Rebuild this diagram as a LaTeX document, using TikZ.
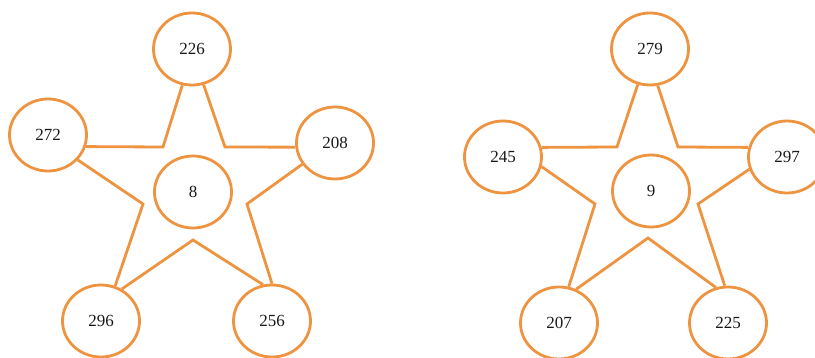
\documentclass[tikz,border=0pt]{standalone}
\usepackage{fontspec}
\setmainfont{Liberation Serif}
\usetikzlibrary{shapes.geometric}
\definecolor{starorange}{RGB}{238,148,64}
\begin{document}
\begin{tikzpicture}[x=1pt,y=-1pt,
  ball/.style={ellipse,draw=starorange,line width=2.8pt,minimum width=77pt,minimum height=72pt,inner sep=0pt,
    font=\fontsize{17}{17}\selectfont,text=black!90},
  edge/.style={draw=starorange,line width=2.8pt,line join=miter}]
\useasboundingbox (0,0) rectangle (815,358);
% left star
\node[ball] (lt) at (192,49) {226};
\node[ball] (ll) at (48,135) {272};
\node[ball] (lr) at (335,143) {208};
\node[ball] (lc) at (193,192) {8};
\node[ball] (lbl) at (101,321) {296};
\node[ball] (lbr) at (272,321) {256};
\coordinate (lA) at (163,147);
\coordinate (lB) at (225,147);
\coordinate (lC) at (143,204);
\coordinate (lD) at (247,204);
\coordinate (lE) at (193,240);
\draw[edge] (ll.-17) -- (lA) -- (lt.-105);
\draw[edge] (lt.-72) -- (lB) -- (lr.-174);
\draw[edge] (lr.-147) -- (lD) -- (lbr.90);
\draw[edge] (lbr.104) -- (lE) -- (lbl.57);
\draw[edge] (lbl.68) -- (lC) -- (ll.-40);
% right star
\node[ball] (rt) at (650,49) {279};
\node[ball] (rl) at (503,157) {245};
\node[ball] (rr) at (787,157) {297};
\node[ball] (rc) at (651,191) {9};
\node[ball] (rbl) at (559,323) {207};
\node[ball] (rbr) at (728,323) {225};
\coordinate (rA) at (617,147);
\coordinate (rB) at (678,147);
\coordinate (rC) at (595,204);
\coordinate (rD) at (698,204);
\coordinate (rE) at (648,238);
\draw[edge] (rl.14) -- (rA) -- (rt.-109);
\draw[edge] (rt.-78) -- (rB) -- (rr.166);
\draw[edge] (rr.-162) -- (rD) -- (rbr.95);
\draw[edge] (rbr.109) -- (rE) -- (rbl.63);
\draw[edge] (rbl.75) -- (rC) -- (rl.-14);
\end{tikzpicture}
\end{document}
